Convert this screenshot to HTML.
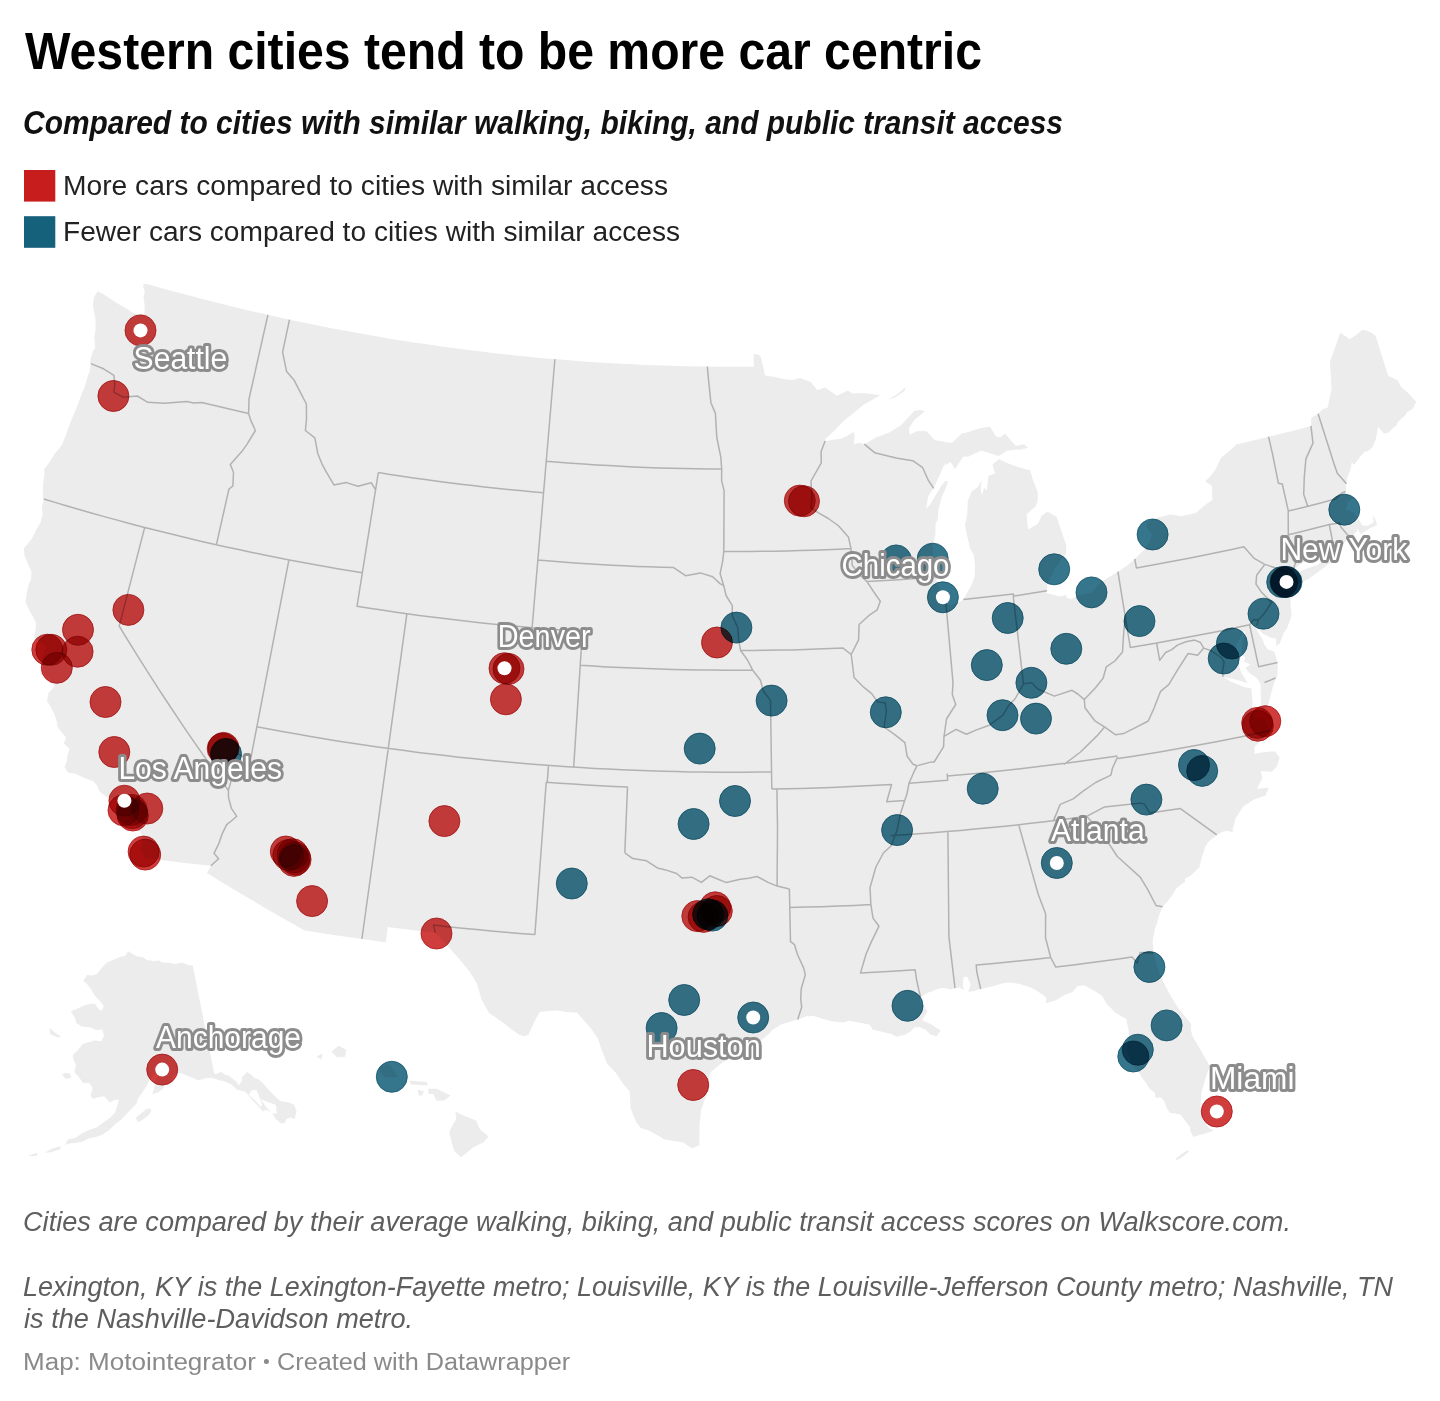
<!DOCTYPE html>
<html><head><meta charset="utf-8"><style>
html,body{margin:0;padding:0;background:#fff}
body{width:1440px;height:1401px;position:relative;overflow:hidden}
</style></head><body>
<svg width="1440" height="1401" viewBox="0 0 1440 1401" style="position:absolute;left:0;top:0">
<g font-family="'Liberation Sans', sans-serif"><text id="title" x="25.00" y="69.1" font-size="51" font-weight="bold" font-style="normal" fill="#000" textLength="957.00" lengthAdjust="spacingAndGlyphs">Western cities tend to be more car centric</text><text id="sub" x="23.00" y="134.4" font-size="33" font-weight="bold" font-style="italic" fill="#111" textLength="1040.01" lengthAdjust="spacingAndGlyphs">Compared to cities with similar walking, biking, and public transit access</text><text id="leg1" x="63.00" y="194.7" font-size="27" font-weight="normal" font-style="normal" fill="#222" textLength="605.02" lengthAdjust="spacingAndGlyphs">More cars compared to cities with similar access</text><text id="leg2" x="63.00" y="240.9" font-size="27" font-weight="normal" font-style="normal" fill="#222" textLength="617.02" lengthAdjust="spacingAndGlyphs">Fewer cars compared to cities with similar access</text><text id="note1" x="23.00" y="1230.8" font-size="27" font-weight="normal" font-style="italic" fill="#5e5e5e" textLength="1268.02" lengthAdjust="spacingAndGlyphs">Cities are compared by their average walking, biking, and public transit access scores on Walkscore.com.</text><text id="note2" x="23.00" y="1295.9" font-size="27" font-weight="normal" font-style="italic" fill="#5e5e5e" textLength="1370.00" lengthAdjust="spacingAndGlyphs">Lexington, KY is the Lexington-Fayette metro; Louisville, KY is the Louisville-Jefferson County metro; Nashville, TN</text><text id="note3" x="24.00" y="1327.9" font-size="27" font-weight="normal" font-style="italic" fill="#5e5e5e" textLength="389.02" lengthAdjust="spacingAndGlyphs">is the Nashville-Davidson metro.</text><text id="byA" x="23.00" y="1370.3" font-size="23.5" font-weight="normal" font-style="normal" fill="#8a8a8a" textLength="232.83" lengthAdjust="spacingAndGlyphs">Map: Motointegrator</text><text id="byB" x="277.00" y="1370.3" font-size="23.5" font-weight="normal" font-style="normal" fill="#8a8a8a" textLength="293.21" lengthAdjust="spacingAndGlyphs">Created with Datawrapper</text></g>
<rect x="24" y="170" width="31.3" height="31.6" fill="#c71e1d"/><rect x="24" y="216.2" width="31.3" height="31.6" fill="#15607a"/><circle cx="266.4" cy="1361.4" r="2.5" fill="#8a8a8a"/>
<g fill="#ececec"><path d="M143.7,283.8L147.4,284.1L158.4,287.2L169.3,290.2L180.3,293.2L191.3,296.1L202.3,299.0L213.3,301.8L224.3,304.6L235.4,307.3L246.4,309.9L257.5,312.5L268.6,315.1L279.7,317.5L290.8,319.9L301.9,322.3L313.1,324.5L324.2,326.8L335.4,328.9L346.6,331.0L357.8,333.1L369.0,335.1L380.2,337.0L391.4,338.9L402.6,340.7L413.9,342.4L425.1,344.1L436.4,345.7L447.6,347.3L458.9,348.8L470.2,350.3L481.5,351.6L492.8,353.0L504.1,354.2L515.4,355.4L526.7,356.6L538.0,357.7L549.3,358.7L560.7,359.6L572.0,360.5L583.3,361.4L594.7,362.2L606.0,362.9L617.4,363.5L628.7,364.1L640.1,364.7L651.5,365.2L662.8,365.6L674.2,365.9L685.6,366.2L696.9,366.4L708.3,366.6L719.7,366.7L731.1,366.8L742.4,366.8L753.8,366.7L753.7,354.1L758.1,354.4L760.8,356.7L763.9,369.9L764.4,373.9L766.2,375.9L773.0,376.4L783.2,378.9L792.2,380.0L800.0,378.1L810.8,382.1L817.4,390.2L825.2,387.5L836.9,395.7L848.0,390.5L852.7,393.6L861.8,393.0L870.9,394.1L880.1,395.2L864.0,404.6L843.4,421.2L834.6,430.6L825.1,439.1L825.6,441.1L841.5,438.4L848.0,435.4L853.6,431.7L854.6,436.7L853.6,444.1L860.0,442.8L864.3,444.2L876.0,437.4L889.3,432.5L900.6,425.6L909.2,416.6L914.4,410.7L920.4,409.9L924.8,411.2L914.1,420.2L909.0,428.3L909.5,434.7L917.3,431.0L926.6,431.2L934.6,440.0L947.4,442.5L952.1,442.7L961.7,433.6L966.7,432.4L979.8,428.3L989.9,426.5L996.0,436.6L1000.0,437.4L1005.0,433.8L1011.8,441.4L1015.9,445.9L1023.9,444.2L1028.0,447.8L1020.0,449.8L1017.5,449.5L1006.9,450.8L998.7,455.9L981.1,450.4L968.8,456.5L963.0,456.8L955.8,468.0L954.7,469.1L950.5,461.8L944.7,465.7L945.3,462.2L939.9,474.6L933.7,488.3L933.3,488.7L930.7,492.3L928.2,496.3L926.2,508.6L929.5,505.3L934.7,497.1L939.9,488.1L945.2,480.9L948.1,480.9L945.5,489.0L941.9,496.4L939.5,505.1L938.3,510.0L937.6,520.5L935.6,522.7L935.4,534.3L932.6,546.8L933.3,558.6L936.7,568.8L936.1,574.0L936.9,577.0L936.8,581.4L941.1,591.6L943.7,598.2L946.1,603.1L950.6,605.4L961.5,601.0L963.3,599.4L970.6,587.1L974.8,576.5L974.9,563.5L973.5,554.1L970.2,548.7L965.9,530.4L965.1,524.4L967.2,514.6L967.8,501.3L971.3,491.8L977.8,487.1L981.6,480.5L980.6,488.5L982.0,495.1L984.1,488.1L986.7,490.1L988.5,475.7L995.5,473.2L994.4,471.3L992.4,464.4L999.1,458.9L1005.7,462.5L1021.9,468.3L1030.2,470.2L1032.6,479.1L1037.7,492.0L1037.8,500.2L1035.7,506.3L1026.6,514.3L1028.0,529.4L1038.0,523.7L1041.4,516.1L1047.4,511.5L1056.7,517.0L1061.3,530.7L1066.4,545.4L1065.9,554.3L1061.4,559.1L1058.4,564.6L1054.1,569.3L1052.2,574.1L1047.3,584.3L1047.0,590.8L1046.0,593.0L1060.6,596.5L1066.2,594.7L1066.6,597.8L1070.8,598.9L1075.4,597.5L1079.6,595.2L1091.4,592.4L1100.4,582.1L1111.7,575.5L1117.9,571.7L1127.8,564.9L1134.8,558.9L1144.0,549.7L1149.6,541.5L1152.0,534.5L1147.2,528.2L1146.2,522.8L1153.6,518.7L1170.7,514.5L1181.0,516.3L1195.7,513.0L1205.7,504.4L1212.4,499.9L1212.0,486.1L1205.3,481.3L1210.4,476.5L1215.7,469.1L1220.9,458.0L1233.0,447.7L1236.4,444.5L1236.4,444.5L1248.9,441.6L1261.4,438.6L1273.8,435.6L1286.2,432.5L1298.6,429.4L1311.0,426.1L1311.3,417.7L1318.1,413.8L1322.9,409.0L1327.5,407.8L1331.6,389.2L1330.0,361.7L1340.2,332.7L1350.0,339.2L1355.9,335.0L1362.9,329.5L1370.7,332.3L1375.5,335.4L1386.9,371.7L1388.5,376.1L1397.6,380.3L1400.8,386.4L1407.6,392.4L1412.9,398.1L1416.1,402.1L1412.8,409.1L1407.4,411.9L1404.9,415.8L1397.9,421.8L1396.5,425.4L1392.4,428.4L1388.6,432.4L1384.0,433.8L1378.1,426.7L1375.7,439.7L1372.7,446.9L1367.7,451.2L1364.6,451.7L1360.4,456.4L1353.9,464.9L1351.8,462.0L1350.6,469.4L1348.8,473.7L1347.3,477.6L1346.5,483.8L1345.4,484.5L1346.3,487.7L1345.5,491.5L1346.0,493.4L1352.6,496.9L1351.5,499.3L1347.2,503.3L1346.9,506.9L1344.6,509.9L1348.7,510.6L1353.8,512.7L1359.0,520.1L1362.5,525.5L1368.2,525.7L1373.7,522.0L1372.9,516.3L1370.1,513.9L1374.7,517.5L1377.1,524.9L1369.5,528.5L1362.1,533.3L1361.1,534.7L1357.4,528.6L1356.8,531.3L1354.1,533.7L1351.4,538.0L1350.4,538.2L1348.8,540.1L1345.8,540.5L1342.9,545.2L1334.1,549.2L1333.0,548.8L1328.3,550.7L1322.0,553.4L1314.5,555.6L1308.7,557.1L1306.1,560.2L1302.7,562.4L1298.0,566.3L1295.5,568.7L1292.8,570.7L1290.8,574.3L1291.1,577.4L1297.5,572.7L1307.5,568.2L1317.6,565.0L1326.0,556.9L1323.8,563.4L1330.9,560.9L1336.2,557.1L1324.7,567.1L1317.0,572.8L1309.3,578.6L1302.3,582.1L1296.3,584.2L1290.9,586.5L1288.3,586.5L1286.5,585.8L1283.4,590.1L1288.7,590.6L1290.4,595.4L1290.5,598.2L1290.6,603.0L1290.9,607.8L1291.6,614.0L1290.3,619.8L1286.7,629.1L1283.6,632.9L1279.8,643.2L1276.3,646.4L1276.2,638.8L1270.6,637.6L1263.1,633.7L1258.1,628.9L1256.9,625.7L1255.7,627.7L1259.2,633.9L1263.5,641.6L1264.2,644.6L1267.9,649.4L1274.0,651.5L1275.1,654.0L1276.9,659.9L1277.6,662.9L1277.7,667.0L1277.6,675.1L1274.0,682.8L1271.0,693.9L1268.0,705.0L1263.6,712.2L1261.3,708.2L1260.7,696.2L1260.7,684.0L1256.7,677.9L1250.6,674.0L1245.3,668.1L1250.4,664.6L1243.9,661.5L1245.3,658.1L1241.4,653.3L1242.0,646.2L1242.2,641.0L1245.5,631.6L1243.0,632.1L1240.3,637.9L1236.3,644.0L1237.4,653.1L1238.3,662.7L1240.6,670.9L1242.7,674.9L1248.0,683.2L1239.9,680.7L1230.1,678.2L1223.1,676.9L1230.7,681.6L1243.9,686.9L1251.5,688.4L1252.1,698.0L1252.7,703.1L1251.5,710.3L1255.8,718.1L1256.2,719.7L1264.1,718.7L1265.5,721.2L1267.6,726.0L1270.2,730.6L1266.0,735.0L1260.0,741.0L1254.5,747.0L1254.5,753.8L1262.0,752.5L1270.0,751.5L1275.0,751.4L1279.7,757.7L1276.5,767.0L1271.8,771.8L1260.8,771.0L1262.4,778.0L1256.9,789.0L1268.7,787.5L1265.5,795.4L1254.5,799.3L1243.5,806.3L1235.7,818.0L1232.6,830.0L1233.0,832.2L1228.5,830.9L1223.0,831.6L1216.8,834.9L1208.2,842.0L1205.0,847.4L1202.1,856.5L1199.2,867.4L1189.9,876.2L1185.1,878.4L1185.1,881.8L1181.2,884.2L1176.2,888.5L1172.9,894.2L1167.0,902.0L1162.6,906.8L1159.0,915.3L1157.3,922.4L1155.2,927.9L1153.1,938.5L1152.5,942.0L1153.5,948.7L1153.3,953.1L1154.4,956.4L1157.3,967.5L1162.6,980.4L1169.3,993.3L1174.2,1001.7L1178.2,1007.9L1191.4,1024.5L1190.7,1029.7L1192.8,1036.8L1197.9,1045.5L1201.1,1050.4L1204.2,1056.4L1209.3,1064.7L1213.8,1071.7L1216.4,1079.8L1217.2,1091.5L1210.5,1064.0L1205.0,1080.0L1201.5,1092.0L1200.5,1106.0L1203.0,1119.0L1208.0,1127.0L1213.5,1131.0L1198.0,1135.6L1193.3,1137.0L1189.9,1129.8L1190.6,1128.0L1180.4,1114.4L1169.6,1112.7L1166.2,1106.8L1163.7,1100.1L1160.2,1097.2L1155.7,1097.9L1155.0,1092.9L1149.4,1088.7L1145.8,1082.4L1142.1,1077.9L1138.0,1070.7L1132.0,1064.8L1130.6,1059.2L1126.7,1050.6L1127.6,1044.4L1128.7,1036.8L1128.8,1031.3L1126.2,1019.1L1115.5,1012.8L1106.2,1003.2L1102.2,995.9L1095.8,991.7L1084.7,985.6L1077.4,985.9L1072.3,992.3L1064.7,994.9L1055.6,1000.4L1045.7,1003.2L1046.6,998.0L1042.6,994.4L1033.8,988.9L1029.2,987.0L1020.1,983.9L1009.8,982.6L1005.4,982.7L999.5,984.3L992.7,986.3L983.3,988.5L980.7,989.1L979.0,989.6L975.6,990.6L968.4,991.9L970.6,984.2L967.1,976.7L963.4,977.0L963.0,986.6L963.8,989.9L959.3,987.5L955.0,988.2L950.7,989.2L943.3,988.1L940.4,988.3L934.8,990.1L930.5,992.1L928.2,992.6L920.7,997.2L919.5,1001.7L924.2,1006.4L927.5,1011.3L922.2,1020.1L931.4,1024.5L936.0,1027.5L940.7,1030.6L936.6,1036.3L930.6,1034.7L925.9,1029.9L919.8,1027.0L913.9,1027.4L911.2,1030.9L905.5,1034.6L896.8,1036.8L890.7,1033.8L872.8,1029.7L869.7,1024.8L856.3,1022.0L848.9,1020.7L843.1,1022.6L831.4,1021.3L813.7,1016.1L806.4,1016.3L797.7,1019.6L781.7,1024.3L771.5,1030.5L770.0,1032.9L761.3,1040.4L754.0,1045.5L743.7,1051.6L734.8,1056.6L722.9,1062.3L711.0,1071.7L709.0,1077.0L709.5,1088.0L705.0,1099.0L701.0,1110.0L699.5,1125.0L699.4,1140.2L699.6,1145.2L691.9,1148.4L682.9,1142.3L673.7,1141.1L664.6,1139.5L655.6,1134.3L649.6,1130.8L640.6,1127.8L636.2,1122.0L630.6,1108.4L629.7,1091.6L622.6,1083.0L615.5,1072.6L607.0,1063.8L601.7,1050.1L597.8,1038.2L590.9,1028.4L577.1,1012.8L566.9,1011.9L556.8,1010.5L547.9,1011.0L539.7,1012.1L533.9,1022.5L528.6,1034.6L524.1,1036.3L519.7,1034.9L511.3,1029.2L505.8,1024.7L494.7,1016.7L489.1,1013.1L481.5,999.6L477.1,984.0L469.6,971.4L459.2,959.1L448.9,947.2L441.2,938.9L436.0,933.6L435.3,932.8L435.3,932.8L419.4,931.0L403.6,929.1L387.7,927.1L385.8,942.2L369.5,940.0L353.3,937.8L337.1,935.4L320.8,933.0L304.7,930.4L304.7,930.4L290.5,922.5L276.3,914.4L262.3,906.3L248.3,898.0L234.4,889.8L220.6,881.4L206.9,873.0L210.9,865.8L210.9,865.8L194.0,864.0L177.1,862.1L160.2,860.1L143.4,858.0L144.2,853.0L141.1,852.7L141.6,846.5L142.5,842.9L141.3,834.3L136.6,826.9L134.5,823.7L132.4,820.4L129.4,817.6L127.9,815.5L123.2,810.9L117.5,809.6L118.6,806.3L117.1,800.7L112.0,798.4L109.0,798.8L101.8,793.5L98.8,790.3L97.8,786.5L93.4,781.2L88.2,779.6L84.3,777.9L75.4,773.8L68.1,772.6L64.4,767.1L66.7,761.7L67.2,756.6L69.5,748.8L67.4,747.1L63.6,743.3L65.5,739.6L65.4,736.8L61.1,731.7L57.4,726.8L57.1,722.9L54.6,714.5L49.1,704.1L47.0,701.7L48.5,693.3L49.3,690.4L49.7,691.9L54.4,686.2L49.7,679.2L45.7,676.7L43.4,672.1L42.9,667.0L42.4,659.1L43.8,654.2L44.9,649.2L46.1,648.1L43.9,644.3L34.2,638.0L35.8,627.8L36.0,622.6L30.2,612.0L25.4,601.7L27.3,589.8L28.5,584.9L31.0,579.2L31.5,571.5L27.9,564.1L24.4,555.2L23.7,548.2L27.9,543.8L32.3,538.1L36.1,530.0L40.4,522.8L42.6,514.6L41.8,507.2L43.8,499.0L42.8,496.9L43.0,484.6L44.5,473.0L44.1,469.3L50.2,461.2L54.8,453.8L62.2,444.4L65.9,434.9L69.4,425.0L73.6,414.7L77.8,404.7L82.2,392.6L84.5,387.7L88.1,375.0L89.7,372.0L90.8,363.6L89.9,361.9L90.8,358.0L93.5,350.0L95.1,348.7L94.8,341.6L94.2,338.0L95.5,329.9L95.6,319.4L92.9,305.7L94.0,297.6L97.5,291.3L104.0,294.5L112.0,300.0L121.0,305.5L128.8,310.0L134.0,313.5L140.0,314.2L144.4,313.6L144.8,306.0L143.5,298.0L144.8,292.0L143.2,287.5L143.7,283.8ZM1175.0,1159.0L1181.0,1154.5L1187.5,1150.0L1189.0,1151.5L1183.0,1156.5L1177.0,1160.0ZM888.4,399.7L896.0,395.1L905.7,387.3L904.8,390.7L895.1,397.5Z" fill-rule="evenodd"/><path d="M128.2,951.2L133.2,954.3L137.1,956.6L143.0,957.2L147.0,960.0L153.1,960.9L159.1,960.5L162.1,962.6L169.5,963.0L175.8,964.0L181.7,962.5L188.4,964.9L192.8,965.8L214.2,1073.8L217.2,1073.8L220.9,1071.8L225.8,1074.9L228.4,1075.5L236.5,1081.5L238.7,1085.2L241.5,1081.4L242.2,1076.9L246.9,1071.9L250.8,1074.5L255.0,1078.2L258.6,1079.6L263.8,1084.1L268.0,1089.0L275.2,1096.5L280.2,1101.1L289.7,1102.7L294.1,1104.8L296.6,1111.5L294.7,1119.1L290.2,1117.6L286.4,1118.9L284.9,1123.1L280.7,1123.3L275.7,1118.8L271.6,1112.6L265.8,1109.5L263.0,1111.6L257.9,1105.7L253.2,1100.9L248.3,1094.9L245.6,1091.9L242.7,1090.9L236.6,1089.4L231.7,1084.5L223.5,1080.9L218.5,1080.1L212.0,1077.8L206.1,1078.3L198.1,1080.2L191.8,1077.5L186.9,1075.8L180.8,1072.9L176.2,1073.4L172.5,1077.3L171.9,1083.3L166.0,1083.7L162.8,1088.7L158.2,1092.5L152.3,1093.9L153.9,1089.1L154.8,1082.0L158.5,1074.7L161.8,1072.2L162.2,1069.8L158.8,1068.8L153.4,1074.9L148.9,1081.0L146.1,1087.0L142.0,1093.0L137.8,1098.9L136.6,1103.6L130.9,1109.4L126.4,1114.1L121.1,1119.8L115.1,1124.2L108.1,1130.9L101.8,1135.1L95.6,1136.9L88.7,1138.6L82.9,1141.4L76.6,1143.0L71.0,1143.3L65.2,1144.8L68.2,1139.3L75.2,1138.0L82.6,1133.1L89.7,1129.8L96.6,1127.5L103.6,1122.2L109.7,1118.0L115.1,1112.4L117.4,1105.4L118.9,1099.6L114.6,1099.9L109.5,1102.5L104.5,1096.2L99.6,1096.9L93.2,1098.7L90.5,1095.9L92.7,1087.9L89.1,1082.7L83.1,1083.0L78.2,1076.3L74.2,1072.1L76.0,1065.2L73.5,1059.9L72.7,1055.0L78.0,1049.9L82.2,1044.6L86.2,1042.8L94.6,1040.4L101.3,1041.2L104.0,1035.6L102.1,1029.5L95.9,1029.9L91.1,1027.5L81.5,1026.5L76.5,1023.2L74.9,1018.1L70.8,1011.2L76.8,1008.9L82.1,1006.3L89.7,1004.0L94.6,1003.6L98.6,1008.9L101.7,1011.0L103.8,1005.9L99.7,1000.7L94.4,995.2L90.8,988.8L86.3,983.2L83.2,980.9L87.0,975.0L92.1,975.4L96.6,974.3L101.8,968.0L106.6,962.8L115.1,959.0L121.3,956.6L125.3,955.7ZM149.6,1108.2L146.5,1108.9L141.6,1113.1L135.9,1117.8L137.8,1122.5L142.3,1120.1L148.5,1115.3L151.6,1110.5ZM69.8,1073.7L65.3,1072.8L62.0,1074.6L65.9,1079.0L71.5,1077.6ZM61.5,1037.0L55.9,1033.2L49.2,1027.8L50.2,1034.2L57.6,1037.3ZM60.1,1146.3L50.3,1149.3L44.6,1153.0L51.9,1152.0L61.0,1148.9ZM37.5,1152.6L27.1,1156.3L36.7,1156.1ZM276.0,1105.0L270.6,1103.0L265.2,1101.0L260.5,1098.7L266.7,1108.0L272.6,1113.5L276.7,1113.4ZM256.6,1090.0L251.5,1090.3L248.9,1094.7L256.0,1101.3L261.1,1107.2L262.2,1104.4Z"/><path d="M455.4,1111.5L456.1,1119.6L452.3,1125.6L449.2,1132.4L454.0,1150.8L461.1,1157.2L473.1,1147.4L483.6,1142.2L488.6,1136.5L480.0,1129.5L476.1,1120.5L463.4,1115.5ZM428.4,1088.8L436.3,1088.8L450.6,1095.5L444.3,1100.5L436.4,1100.5L433.2,1093.8L428.4,1093.8ZM409.5,1080.5L426.8,1082.1L427.8,1085.5L411.0,1084.5ZM417.4,1089.8L423.7,1091.2L422.1,1095.5L418.9,1095.5ZM378.5,1067.7L389.0,1063.7L398.4,1077.1L390.5,1077.7L384.2,1077.0L380.1,1072.0ZM331.4,1051.6L338.7,1045.7L346.5,1050.1L344.9,1056.7L337.0,1057.3ZM316.5,1056.4L322.8,1053.2L321.2,1059.8Z"/></g>
<path d="M90.8,363.6L103.6,368.8L113.9,375.3L114.7,383.6L113.9,392.2L123.5,397.3L137.3,396.0L147.8,402.3L164.6,403.3L186.9,401.5L193.8,402.9L201.6,402.4L201.6,402.4L213.4,405.2L225.1,408.0L236.8,410.8L248.6,413.4M267.9,314.9L249.0,399.0L248.6,413.4M248.6,413.4L251.0,420.9L255.4,430.5L247.1,444.1L241.8,451.6L230.3,464.6L233.5,472.2L232.9,486.0L228.9,489.2L216.4,544.7M43.8,499.0L55.8,502.6L67.9,506.2L80.0,509.7L92.1,513.2L104.2,516.6L116.3,519.9L128.5,523.2L140.7,526.4L152.8,529.5L165.1,532.6L177.3,535.6L189.5,538.5L201.8,541.4L214.0,544.2L226.3,546.9L238.6,549.6L250.9,552.2L263.3,554.8L275.6,557.3L288.0,559.7L300.3,562.0L312.7,564.3L325.1,566.5L337.5,568.7L349.9,570.8L362.3,572.8M289.5,319.6L282.6,352.2L286.6,371.6L294.2,380.3L300.1,391.8L306.4,404.0L306.5,418.7L305.4,430.5L314.8,437.8L317.8,453.5L321.9,463.8L326.4,472.2L333.9,484.9L346.4,482.6L358.0,486.3L371.2,482.7L375.6,489.9M378.3,472.6L357.0,606.3L357.0,606.3L369.4,608.2L381.9,610.1L394.4,612.0L406.9,613.7M378.3,472.6L390.1,474.4L401.9,476.2L413.6,477.9L425.4,479.6L437.2,481.2L449.0,482.7L460.8,484.2L472.6,485.6L484.4,486.9L496.2,488.2L508.0,489.4L519.9,490.6L531.7,491.7L543.6,492.7M554.9,359.2L532.1,627.7M406.9,613.7L419.3,615.4L431.8,617.0L444.4,618.6L456.9,620.1L469.4,621.5L481.9,622.9L494.5,624.2L507.0,625.4L519.6,626.6L532.1,627.7L544.7,628.7L557.2,629.7L569.8,630.6L582.4,631.4M406.9,613.7L361.9,939.0M256.8,726.7L270.2,729.3L283.6,731.7L297.0,734.1L310.5,736.4L323.9,738.7L337.3,740.9L350.8,743.0L364.3,745.0L377.7,746.9L391.2,748.8L404.7,750.6L418.2,752.4L431.8,754.1L445.3,755.6L458.8,757.2L472.4,758.6L485.9,760.0L499.5,761.3L513.0,762.5L526.6,763.7L540.2,764.8L553.8,765.8L567.4,766.7L581.0,767.6L594.6,768.4L608.2,769.1L621.8,769.7L635.4,770.3L649.0,770.8L662.6,771.2L676.2,771.6L689.8,771.9L703.4,772.1L717.1,772.2L730.7,772.2L744.3,772.2L757.9,772.1L771.5,772.0M582.4,631.4L573.7,767.1M580.2,665.3L593.5,666.1L606.7,666.9L620.0,667.5L633.2,668.1L646.5,668.6L659.8,669.1L673.0,669.5L686.3,669.8L699.6,670.0L712.9,670.1L726.1,670.2L739.4,670.2L752.7,670.2M288.9,559.9L251.1,756.8L244.1,757.2L236.6,753.3L231.6,758.1L230.6,770.1L231.2,780.6L228.4,790.4M144.7,527.4L119.2,626.1L119.2,626.1L127.0,638.9L134.9,651.7L142.9,664.4L151.0,677.1L159.2,689.8L167.5,702.5L175.9,715.2L184.4,727.8L193.0,740.4L201.7,752.9L210.5,765.5L219.4,778.0L228.4,790.4M228.4,790.4L228.5,797.4L231.4,808.3L236.8,816.3L231.8,820.5L226.7,824.7L222.0,834.2L218.7,843.9L214.0,853.3L218.6,858.7L210.9,865.8M435.3,932.8L433.6,925.1L433.6,925.1L447.9,926.7L462.3,928.2L476.7,929.6L491.1,930.9L505.5,932.2L519.9,933.4L534.3,934.5L534.9,934.5L546.2,782.3M546.2,782.3L559.7,783.2L573.3,784.1L586.8,785.0L600.4,785.7L614.0,786.4L627.5,787.0L627.5,787.0L624.8,852.9M547.2,782.3L548.5,765.4M624.8,852.9L632.8,858.6L646.5,860.8L657.4,867.9L665.6,869.9L676.6,873.5L682.1,878.1L691.8,877.2L701.4,882.4L709.8,875.8L718.1,879.2L726.4,882.6L740.3,879.3L748.7,878.2L757.0,876.5L768.1,882.4L777.1,886.1L789.4,888.9M789.4,888.9L790.5,941.7L794.5,944.7L797.6,954.8L803.7,968.1L805.3,974.9L801.3,988.5L800.7,998.6L801.7,1007.0L797.7,1019.6M776.9,788.9L777.5,826.3L777.5,826.3L777.4,846.2L777.2,866.1L777.1,886.1M771.8,789.0L770.5,700.6L763.1,690.5L760.5,680.3L752.7,670.2M752.7,670.2L747.5,660.0L740.6,650.5L738.6,639.7L737.8,627.8L732.3,615.9L732.3,605.7L726.1,595.5L723.7,585.7M537.8,560.1L550.2,561.1L562.5,562.0L574.8,562.9L587.1,563.7L599.5,564.5L611.8,565.2L624.2,565.8L636.5,566.4L648.9,566.8L661.2,567.3L673.6,567.6L685.6,575.7L700.4,572.9L712.7,576.8L720.0,583.6L723.7,585.7M723.7,585.7L720.1,573.5L722.6,561.6L723.8,551.5L724.1,490.7L721.6,480.6L721.7,469.1M546.2,461.2L558.7,462.2L571.3,463.2L583.8,464.1L596.3,464.9L608.8,465.6L621.3,466.3L633.9,466.9L646.4,467.4L658.9,467.9L671.5,468.3L684.0,468.6L696.6,468.8L709.1,469.0L721.7,469.1M721.7,469.1L720.8,457.0L716.8,437.5L715.4,413.4L710.9,402.7L708.9,383.3L707.3,366.6M723.8,551.5L736.6,551.5L749.3,551.5L762.0,551.3L774.7,551.2L787.4,550.9L800.1,550.6L812.8,550.2L825.6,549.7L838.3,549.2L851.0,548.6M740.6,650.5L753.4,650.5L766.2,650.3L779.0,650.1L791.8,649.9L804.6,649.5L817.4,649.1L830.2,648.6L843.0,648.1L851.2,654.5M851.0,548.6L848.4,536.9L838.2,525.5L828.3,518.5L818.5,512.8L811.2,508.0L811.9,496.1L811.0,481.0L821.3,462.8L821.1,451.4L825.1,441.1M851.0,548.6L852.3,565.5L860.2,575.2L867.0,581.6L873.5,591.5L880.3,601.2L877.1,609.9L869.8,614.8L859.1,624.5L858.6,639.9L851.2,654.5L854.1,677.5L863.6,687.2L871.7,693.6L877.4,701.8L885.3,703.0L886.3,712.2L884.1,727.0L895.1,734.8L904.9,742.7L907.1,756.2L913.0,764.3L917.1,765.7M917.1,765.7L913.6,772.7L909.0,783.3L907.0,793.7L904.7,800.6L886.7,801.7L891.6,784.4L891.6,784.4L876.6,785.3L861.6,786.1L846.7,786.8L831.7,787.4L816.7,787.9L801.8,788.4L786.8,788.7L771.8,789.0M904.7,800.6L900.2,814.5L897.1,830.0L891.2,845.7L883.4,853.0L875.9,867.0L870.0,887.7L870.9,904.6L873.0,918.1L879.0,926.2L871.3,941.9L866.2,953.7L860.5,972.9L860.5,972.9L878.7,972.0L896.9,971.0L915.1,969.8L916.6,979.9L918.8,989.9L920.7,997.2M789.8,907.5L806.0,907.1L822.2,906.7L838.4,906.1L854.7,905.4L870.9,904.6M947.9,831.5L948.9,936.9L955.0,988.2M890.6,835.6L904.6,834.7L918.7,833.7L932.7,832.7L946.7,831.6L960.8,830.4L974.8,829.1L988.8,827.8L1002.8,826.4L1016.8,824.9L1030.7,823.3L1044.7,821.7L1058.7,820.0L1072.6,818.2L1086.6,816.3M909.0,783.3L947.7,780.3L947.2,774.2L947.4,775.9L961.6,774.7L975.8,773.4L990.0,772.0L1004.2,770.5L1018.4,769.0L1032.6,767.3L1046.8,765.6L1060.9,763.8L1075.1,762.0L1089.2,760.0L1103.4,758.0L1117.5,755.9M1117.6,756.9L1112.5,768.0L1110.9,775.1L1095.6,782.5L1083.1,791.1L1073.2,798.9L1060.2,804.4L1053.5,820.6M1117.9,758.6L1131.8,756.4L1145.7,754.2L1159.6,751.9L1173.5,749.5L1187.4,747.0L1201.2,744.5L1215.0,741.9L1228.9,739.2L1242.7,736.4L1256.5,733.6L1270.2,730.6M1086.6,816.3L1104.6,806.9L1141.2,803.1L1144.7,804.3L1149.8,813.1L1180.4,808.6L1216.8,834.9M1086.6,816.3L1103.0,834.6L1117.3,856.5L1124.8,863.3L1140.2,877.1L1147.8,889.6L1156.0,905.5L1162.6,906.8M1018.7,824.7L1038.2,894.2L1045.6,913.8L1045.5,937.7L1050.7,957.5M980.7,989.1L976.8,971.8L976.2,965.1L976.2,965.1L991.1,963.7L1006.0,962.3L1020.9,960.8L1035.8,959.2L1050.7,957.5L1055.8,967.1L1055.8,967.1L1071.1,965.2L1086.3,963.3L1101.6,961.3L1116.8,959.2L1132.0,957.0L1137.3,963.1L1140.1,952.4L1153.3,953.1M1063.8,764.5L1080.5,752.0L1097.0,735.9L1104.5,726.9L1094.8,720.8L1085.0,707.7L1084.3,699.6M1125.3,616.6L1123.4,636.9L1122.5,651.9L1114.8,661.0L1106.3,666.8L1103.1,678.3L1095.3,688.0L1084.3,699.6L1077.8,694.0L1072.0,690.3L1054.4,696.1L1037.7,689.0L1031.8,682.8L1023.5,683.8L1015.3,698.5L1008.3,706.1L1002.7,715.3L989.3,725.2L976.5,729.9L966.4,734.3L956.1,729.4L944.0,736.3L943.6,746.6L934.2,762.0L931.5,761.9L917.6,765.6M1117.9,571.7L1130.3,647.5L1130.3,647.5L1143.6,645.2L1156.9,643.0L1170.2,640.6L1183.5,638.1L1196.7,635.6L1210.0,633.0L1223.2,630.4L1236.4,627.6L1249.6,624.8M1156.6,643.0L1159.7,660.4L1165.6,652.5L1171.7,649.6L1177.4,645.1L1185.9,641.8L1194.8,640.1L1200.5,642.5L1203.7,648.1M1104.5,726.9L1115.6,734.8L1123.5,733.6L1133.5,728.6L1148.3,721.0L1154.1,708.0L1160.6,691.3L1168.7,684.7L1177.9,669.3L1188.1,653.5L1197.7,655.2L1203.7,648.1M1203.7,648.1L1211.3,650.8L1221.3,657.5L1224.1,662.1L1222.3,672.9L1223.1,676.9M1264.5,682.5L1275.6,678.0M1249.6,624.8L1258.6,666.7L1258.6,666.7L1277.5,662.5M1249.6,624.8L1253.5,619.8L1258.3,620.1M1256.9,625.7L1258.3,620.1L1264.2,613.6L1271.4,602.6L1261.1,591.7L1256.0,584.1L1256.6,575.3L1264.8,564.4M1264.8,564.4L1286.9,571.8L1287.2,578.7L1286.5,585.8M1264.8,564.4L1254.2,558.4L1243.9,546.8L1243.9,546.8L1230.5,549.7L1217.1,552.5L1203.7,555.3L1190.3,558.0L1176.8,560.6L1163.4,563.1L1149.9,565.6L1136.4,567.9L1134.8,558.9M1268.5,436.6L1272.4,453.3L1278.4,483.2L1282.3,484.0L1288.2,510.4L1288.3,534.8L1293.1,559.8L1295.6,562.7L1292.8,570.7M1307.7,506.3L1303.7,494.3L1304.3,476.7L1305.9,458.9L1313.0,443.1L1310.9,425.8M1288.4,511.1L1304.1,507.2L1319.7,503.2L1335.4,499.1L1341.4,493.3L1345.5,491.5M1318.1,413.8L1334.0,463.7L1337.3,473.3L1346.5,483.8M1288.3,534.8L1302.0,531.5L1315.6,528.0L1329.3,524.5L1339.6,522.9L1340.7,526.8L1350.4,538.2M1329.4,525.2L1334.1,549.2M864.3,444.2L874.6,452.7L896.1,457.9L912.7,460.7L922.7,467.7L928.5,480.7L933.7,488.3M963.3,599.4L1013.4,594.0L1013.7,596.1L1047.0,590.8M1013.2,596.1L1023.5,683.8M945.9,603.1L953.0,682.6L952.3,694.6L955.7,704.5L946.5,719.0L944.0,736.3M867.0,581.6L880.9,580.8L894.9,579.9L908.9,578.9L922.9,577.8L936.8,576.7" fill="none" stroke="#b2b2b2" stroke-width="1.5" stroke-linejoin="round"/>
<g><circle cx="140.5" cy="330.4" r="15.5" fill="#c71e1d" fill-opacity="0.86" stroke="#b01a1a" stroke-opacity="0.85" stroke-width="1" style="mix-blend-mode:multiply"/><circle cx="113.4" cy="396.0" r="15.5" fill="#c71e1d" fill-opacity="0.86" stroke="#b01a1a" stroke-opacity="0.85" stroke-width="1" style="mix-blend-mode:multiply"/><circle cx="78.0" cy="629.8" r="15.5" fill="#c71e1d" fill-opacity="0.86" stroke="#b01a1a" stroke-opacity="0.85" stroke-width="1" style="mix-blend-mode:multiply"/><circle cx="47.3" cy="649.7" r="15.5" fill="#c71e1d" fill-opacity="0.86" stroke="#b01a1a" stroke-opacity="0.85" stroke-width="1" style="mix-blend-mode:multiply"/><circle cx="51.3" cy="649.8" r="15.5" fill="#c71e1d" fill-opacity="0.86" stroke="#b01a1a" stroke-opacity="0.85" stroke-width="1" style="mix-blend-mode:multiply"/><circle cx="77.6" cy="651.7" r="15.5" fill="#c71e1d" fill-opacity="0.86" stroke="#b01a1a" stroke-opacity="0.85" stroke-width="1" style="mix-blend-mode:multiply"/><circle cx="56.8" cy="667.8" r="15.5" fill="#c71e1d" fill-opacity="0.86" stroke="#b01a1a" stroke-opacity="0.85" stroke-width="1" style="mix-blend-mode:multiply"/><circle cx="128.4" cy="609.9" r="15.5" fill="#c71e1d" fill-opacity="0.86" stroke="#b01a1a" stroke-opacity="0.85" stroke-width="1" style="mix-blend-mode:multiply"/><circle cx="105.5" cy="702.0" r="15.5" fill="#c71e1d" fill-opacity="0.86" stroke="#b01a1a" stroke-opacity="0.85" stroke-width="1" style="mix-blend-mode:multiply"/><circle cx="114.3" cy="752.0" r="15.5" fill="#c71e1d" fill-opacity="0.86" stroke="#b01a1a" stroke-opacity="0.85" stroke-width="1" style="mix-blend-mode:multiply"/><circle cx="222.7" cy="748.7" r="15.5" fill="#c71e1d" fill-opacity="0.86" stroke="#b01a1a" stroke-opacity="0.85" stroke-width="1" style="mix-blend-mode:multiply"/><circle cx="223.5" cy="747.9" r="15.5" fill="#c71e1d" fill-opacity="0.86" stroke="#b01a1a" stroke-opacity="0.85" stroke-width="1" style="mix-blend-mode:multiply"/><circle cx="226.0" cy="753.9" r="15.5" fill="#15607a" fill-opacity="0.86" stroke="#14566c" stroke-opacity="0.85" stroke-width="1" style="mix-blend-mode:multiply"/><circle cx="123.5" cy="810.3" r="15.5" fill="#c71e1d" fill-opacity="0.86" stroke="#b01a1a" stroke-opacity="0.85" stroke-width="1" style="mix-blend-mode:multiply"/><circle cx="131.6" cy="809.9" r="15.5" fill="#c71e1d" fill-opacity="0.86" stroke="#b01a1a" stroke-opacity="0.85" stroke-width="1" style="mix-blend-mode:multiply"/><circle cx="132.2" cy="813.2" r="15.5" fill="#c71e1d" fill-opacity="0.86" stroke="#b01a1a" stroke-opacity="0.85" stroke-width="1" style="mix-blend-mode:multiply"/><circle cx="132.8" cy="815.5" r="15.5" fill="#c71e1d" fill-opacity="0.86" stroke="#b01a1a" stroke-opacity="0.85" stroke-width="1" style="mix-blend-mode:multiply"/><circle cx="147.3" cy="808.5" r="15.5" fill="#c71e1d" fill-opacity="0.86" stroke="#b01a1a" stroke-opacity="0.85" stroke-width="1" style="mix-blend-mode:multiply"/><circle cx="124.4" cy="800.7" r="15.5" fill="#c71e1d" fill-opacity="0.86" stroke="#b01a1a" stroke-opacity="0.85" stroke-width="1" style="mix-blend-mode:multiply"/><circle cx="143.6" cy="851.6" r="15.5" fill="#c71e1d" fill-opacity="0.86" stroke="#b01a1a" stroke-opacity="0.85" stroke-width="1" style="mix-blend-mode:multiply"/><circle cx="145.2" cy="854.6" r="15.5" fill="#c71e1d" fill-opacity="0.86" stroke="#b01a1a" stroke-opacity="0.85" stroke-width="1" style="mix-blend-mode:multiply"/><circle cx="288.3" cy="855.0" r="15.5" fill="#c71e1d" fill-opacity="0.86" stroke="#b01a1a" stroke-opacity="0.85" stroke-width="1" style="mix-blend-mode:multiply"/><circle cx="294.8" cy="857.3" r="15.5" fill="#c71e1d" fill-opacity="0.86" stroke="#b01a1a" stroke-opacity="0.85" stroke-width="1" style="mix-blend-mode:multiply"/><circle cx="293.9" cy="860.9" r="15.5" fill="#c71e1d" fill-opacity="0.86" stroke="#b01a1a" stroke-opacity="0.85" stroke-width="1" style="mix-blend-mode:multiply"/><circle cx="292.7" cy="854.2" r="15.5" fill="#c71e1d" fill-opacity="0.86" stroke="#b01a1a" stroke-opacity="0.85" stroke-width="1" style="mix-blend-mode:multiply"/><circle cx="295.6" cy="859.6" r="15.5" fill="#c71e1d" fill-opacity="0.86" stroke="#b01a1a" stroke-opacity="0.85" stroke-width="1" style="mix-blend-mode:multiply"/><circle cx="285.8" cy="851.5" r="15.5" fill="#c71e1d" fill-opacity="0.86" stroke="#b01a1a" stroke-opacity="0.85" stroke-width="1" style="mix-blend-mode:multiply"/><circle cx="312.1" cy="901.1" r="15.5" fill="#c71e1d" fill-opacity="0.86" stroke="#b01a1a" stroke-opacity="0.85" stroke-width="1" style="mix-blend-mode:multiply"/><circle cx="444.4" cy="821.1" r="15.5" fill="#c71e1d" fill-opacity="0.86" stroke="#b01a1a" stroke-opacity="0.85" stroke-width="1" style="mix-blend-mode:multiply"/><circle cx="436.5" cy="933.5" r="15.5" fill="#c71e1d" fill-opacity="0.86" stroke="#b01a1a" stroke-opacity="0.85" stroke-width="1" style="mix-blend-mode:multiply"/><circle cx="508.5" cy="668.9" r="15.5" fill="#c71e1d" fill-opacity="0.86" stroke="#b01a1a" stroke-opacity="0.85" stroke-width="1" style="mix-blend-mode:multiply"/><circle cx="504.5" cy="668.2" r="15.5" fill="#c71e1d" fill-opacity="0.86" stroke="#b01a1a" stroke-opacity="0.85" stroke-width="1" style="mix-blend-mode:multiply"/><circle cx="505.9" cy="699.3" r="15.5" fill="#c71e1d" fill-opacity="0.86" stroke="#b01a1a" stroke-opacity="0.85" stroke-width="1" style="mix-blend-mode:multiply"/><circle cx="717.0" cy="642.5" r="15.5" fill="#c71e1d" fill-opacity="0.86" stroke="#b01a1a" stroke-opacity="0.85" stroke-width="1" style="mix-blend-mode:multiply"/><circle cx="736.4" cy="627.6" r="15.5" fill="#15607a" fill-opacity="0.86" stroke="#14566c" stroke-opacity="0.85" stroke-width="1" style="mix-blend-mode:multiply"/><circle cx="799.8" cy="500.6" r="15.5" fill="#c71e1d" fill-opacity="0.86" stroke="#b01a1a" stroke-opacity="0.85" stroke-width="1" style="mix-blend-mode:multiply"/><circle cx="804.0" cy="501.3" r="15.5" fill="#c71e1d" fill-opacity="0.86" stroke="#b01a1a" stroke-opacity="0.85" stroke-width="1" style="mix-blend-mode:multiply"/><circle cx="771.6" cy="700.6" r="15.5" fill="#15607a" fill-opacity="0.86" stroke="#14566c" stroke-opacity="0.85" stroke-width="1" style="mix-blend-mode:multiply"/><circle cx="699.7" cy="748.6" r="15.5" fill="#15607a" fill-opacity="0.86" stroke="#14566c" stroke-opacity="0.85" stroke-width="1" style="mix-blend-mode:multiply"/><circle cx="735.0" cy="801.0" r="15.5" fill="#15607a" fill-opacity="0.86" stroke="#14566c" stroke-opacity="0.85" stroke-width="1" style="mix-blend-mode:multiply"/><circle cx="693.6" cy="824.0" r="15.5" fill="#15607a" fill-opacity="0.86" stroke="#14566c" stroke-opacity="0.85" stroke-width="1" style="mix-blend-mode:multiply"/><circle cx="571.8" cy="883.5" r="15.5" fill="#15607a" fill-opacity="0.86" stroke="#14566c" stroke-opacity="0.85" stroke-width="1" style="mix-blend-mode:multiply"/><circle cx="697.3" cy="916.1" r="15.5" fill="#c71e1d" fill-opacity="0.86" stroke="#b01a1a" stroke-opacity="0.85" stroke-width="1" style="mix-blend-mode:multiply"/><circle cx="703.6" cy="916.9" r="15.5" fill="#c71e1d" fill-opacity="0.86" stroke="#b01a1a" stroke-opacity="0.85" stroke-width="1" style="mix-blend-mode:multiply"/><circle cx="708.1" cy="914.3" r="15.5" fill="#15607a" fill-opacity="0.86" stroke="#14566c" stroke-opacity="0.85" stroke-width="1" style="mix-blend-mode:multiply"/><circle cx="712.4" cy="915.6" r="15.5" fill="#15607a" fill-opacity="0.86" stroke="#14566c" stroke-opacity="0.85" stroke-width="1" style="mix-blend-mode:multiply"/><circle cx="716.8" cy="911.0" r="15.5" fill="#c71e1d" fill-opacity="0.86" stroke="#b01a1a" stroke-opacity="0.85" stroke-width="1" style="mix-blend-mode:multiply"/><circle cx="715.2" cy="907.3" r="15.5" fill="#c71e1d" fill-opacity="0.86" stroke="#b01a1a" stroke-opacity="0.85" stroke-width="1" style="mix-blend-mode:multiply"/><circle cx="684.2" cy="1000.0" r="15.5" fill="#15607a" fill-opacity="0.86" stroke="#14566c" stroke-opacity="0.85" stroke-width="1" style="mix-blend-mode:multiply"/><circle cx="661.6" cy="1028.0" r="15.5" fill="#15607a" fill-opacity="0.86" stroke="#14566c" stroke-opacity="0.85" stroke-width="1" style="mix-blend-mode:multiply"/><circle cx="693.2" cy="1085.0" r="15.5" fill="#c71e1d" fill-opacity="0.86" stroke="#b01a1a" stroke-opacity="0.85" stroke-width="1" style="mix-blend-mode:multiply"/><circle cx="753.2" cy="1017.5" r="15.5" fill="#15607a" fill-opacity="0.86" stroke="#14566c" stroke-opacity="0.85" stroke-width="1" style="mix-blend-mode:multiply"/><circle cx="907.5" cy="1005.8" r="15.5" fill="#15607a" fill-opacity="0.86" stroke="#14566c" stroke-opacity="0.85" stroke-width="1" style="mix-blend-mode:multiply"/><circle cx="896.1" cy="560.4" r="15.5" fill="#15607a" fill-opacity="0.86" stroke="#14566c" stroke-opacity="0.85" stroke-width="1" style="mix-blend-mode:multiply"/><circle cx="932.7" cy="558.7" r="15.5" fill="#15607a" fill-opacity="0.86" stroke="#14566c" stroke-opacity="0.85" stroke-width="1" style="mix-blend-mode:multiply"/><circle cx="942.9" cy="597.3" r="15.5" fill="#15607a" fill-opacity="0.86" stroke="#14566c" stroke-opacity="0.85" stroke-width="1" style="mix-blend-mode:multiply"/><circle cx="1054.2" cy="569.3" r="15.5" fill="#15607a" fill-opacity="0.86" stroke="#14566c" stroke-opacity="0.85" stroke-width="1" style="mix-blend-mode:multiply"/><circle cx="1091.5" cy="592.4" r="15.5" fill="#15607a" fill-opacity="0.86" stroke="#14566c" stroke-opacity="0.85" stroke-width="1" style="mix-blend-mode:multiply"/><circle cx="1007.7" cy="618.0" r="15.5" fill="#15607a" fill-opacity="0.86" stroke="#14566c" stroke-opacity="0.85" stroke-width="1" style="mix-blend-mode:multiply"/><circle cx="986.8" cy="665.1" r="15.5" fill="#15607a" fill-opacity="0.86" stroke="#14566c" stroke-opacity="0.85" stroke-width="1" style="mix-blend-mode:multiply"/><circle cx="1066.3" cy="648.8" r="15.5" fill="#15607a" fill-opacity="0.86" stroke="#14566c" stroke-opacity="0.85" stroke-width="1" style="mix-blend-mode:multiply"/><circle cx="1031.4" cy="682.8" r="15.5" fill="#15607a" fill-opacity="0.86" stroke="#14566c" stroke-opacity="0.85" stroke-width="1" style="mix-blend-mode:multiply"/><circle cx="1002.5" cy="715.2" r="15.5" fill="#15607a" fill-opacity="0.86" stroke="#14566c" stroke-opacity="0.85" stroke-width="1" style="mix-blend-mode:multiply"/><circle cx="1036.0" cy="718.6" r="15.5" fill="#15607a" fill-opacity="0.86" stroke="#14566c" stroke-opacity="0.85" stroke-width="1" style="mix-blend-mode:multiply"/><circle cx="885.8" cy="712.3" r="15.5" fill="#15607a" fill-opacity="0.86" stroke="#14566c" stroke-opacity="0.85" stroke-width="1" style="mix-blend-mode:multiply"/><circle cx="897.1" cy="830.1" r="15.5" fill="#15607a" fill-opacity="0.86" stroke="#14566c" stroke-opacity="0.85" stroke-width="1" style="mix-blend-mode:multiply"/><circle cx="982.7" cy="788.7" r="15.5" fill="#15607a" fill-opacity="0.86" stroke="#14566c" stroke-opacity="0.85" stroke-width="1" style="mix-blend-mode:multiply"/><circle cx="1146.4" cy="799.6" r="15.5" fill="#15607a" fill-opacity="0.86" stroke="#14566c" stroke-opacity="0.85" stroke-width="1" style="mix-blend-mode:multiply"/><circle cx="1202.2" cy="770.9" r="15.5" fill="#15607a" fill-opacity="0.86" stroke="#14566c" stroke-opacity="0.85" stroke-width="1" style="mix-blend-mode:multiply"/><circle cx="1194.0" cy="765.0" r="15.5" fill="#15607a" fill-opacity="0.86" stroke="#14566c" stroke-opacity="0.85" stroke-width="1" style="mix-blend-mode:multiply"/><circle cx="1149.4" cy="967.0" r="15.5" fill="#15607a" fill-opacity="0.86" stroke="#14566c" stroke-opacity="0.85" stroke-width="1" style="mix-blend-mode:multiply"/><circle cx="1166.6" cy="1025.4" r="15.5" fill="#15607a" fill-opacity="0.86" stroke="#14566c" stroke-opacity="0.85" stroke-width="1" style="mix-blend-mode:multiply"/><circle cx="1137.8" cy="1049.7" r="15.5" fill="#15607a" fill-opacity="0.86" stroke="#14566c" stroke-opacity="0.85" stroke-width="1" style="mix-blend-mode:multiply"/><circle cx="1133.3" cy="1056.5" r="15.5" fill="#15607a" fill-opacity="0.86" stroke="#14566c" stroke-opacity="0.85" stroke-width="1" style="mix-blend-mode:multiply"/><circle cx="1152.6" cy="534.5" r="15.5" fill="#15607a" fill-opacity="0.86" stroke="#14566c" stroke-opacity="0.85" stroke-width="1" style="mix-blend-mode:multiply"/><circle cx="1139.5" cy="621.1" r="15.5" fill="#15607a" fill-opacity="0.86" stroke="#14566c" stroke-opacity="0.85" stroke-width="1" style="mix-blend-mode:multiply"/><circle cx="1263.5" cy="613.7" r="15.5" fill="#15607a" fill-opacity="0.86" stroke="#14566c" stroke-opacity="0.85" stroke-width="1" style="mix-blend-mode:multiply"/><circle cx="1231.9" cy="643.5" r="15.5" fill="#15607a" fill-opacity="0.86" stroke="#14566c" stroke-opacity="0.85" stroke-width="1" style="mix-blend-mode:multiply"/><circle cx="1223.7" cy="658.5" r="15.5" fill="#15607a" fill-opacity="0.86" stroke="#14566c" stroke-opacity="0.85" stroke-width="1" style="mix-blend-mode:multiply"/><circle cx="1344.3" cy="509.7" r="15.5" fill="#15607a" fill-opacity="0.86" stroke="#14566c" stroke-opacity="0.85" stroke-width="1" style="mix-blend-mode:multiply"/><circle cx="1282.2" cy="582.1" r="15.5" fill="#15607a" fill-opacity="0.86" stroke="#14566c" stroke-opacity="0.85" stroke-width="1" style="mix-blend-mode:multiply"/><circle cx="1285.6" cy="581.9" r="15.5" fill="#15607a" fill-opacity="0.86" stroke="#14566c" stroke-opacity="0.85" stroke-width="1" style="mix-blend-mode:multiply"/><circle cx="1286.5" cy="581.9" r="15.5" fill="#15607a" fill-opacity="0.86" stroke="#14566c" stroke-opacity="0.85" stroke-width="1" style="mix-blend-mode:multiply"/><circle cx="1265.3" cy="721.2" r="15.5" fill="#c71e1d" fill-opacity="0.86" stroke="#b01a1a" stroke-opacity="0.85" stroke-width="1" style="mix-blend-mode:multiply"/><circle cx="1257.2" cy="722.9" r="15.5" fill="#c71e1d" fill-opacity="0.86" stroke="#b01a1a" stroke-opacity="0.85" stroke-width="1" style="mix-blend-mode:multiply"/><circle cx="1257.8" cy="725.7" r="15.5" fill="#c71e1d" fill-opacity="0.86" stroke="#b01a1a" stroke-opacity="0.85" stroke-width="1" style="mix-blend-mode:multiply"/><circle cx="1056.8" cy="863.0" r="15.5" fill="#15607a" fill-opacity="0.86" stroke="#14566c" stroke-opacity="0.85" stroke-width="1" style="mix-blend-mode:multiply"/><circle cx="1216.8" cy="1111.5" r="15.5" fill="#c71e1d" fill-opacity="0.86" stroke="#b01a1a" stroke-opacity="0.85" stroke-width="1" style="mix-blend-mode:multiply"/><circle cx="162.2" cy="1069.6" r="15.5" fill="#c71e1d" fill-opacity="0.86" stroke="#b01a1a" stroke-opacity="0.85" stroke-width="1" style="mix-blend-mode:multiply"/><circle cx="391.8" cy="1076.8" r="15.5" fill="#15607a" fill-opacity="0.86" stroke="#14566c" stroke-opacity="0.85" stroke-width="1" style="mix-blend-mode:multiply"/></g>
<g><circle cx="140.5" cy="330.4" r="7" fill="#fff"/><circle cx="124.4" cy="800.7" r="7" fill="#fff"/><circle cx="504.5" cy="668.2" r="7" fill="#fff"/><circle cx="753.2" cy="1017.5" r="7" fill="#fff"/><circle cx="942.9" cy="597.3" r="7" fill="#fff"/><circle cx="1286.5" cy="581.9" r="7" fill="#fff"/><circle cx="1056.8" cy="863.0" r="7" fill="#fff"/><circle cx="1216.8" cy="1111.5" r="7" fill="#fff"/><circle cx="162.2" cy="1069.6" r="7" fill="#fff"/></g>
<g font-family="'Liberation Sans', sans-serif" font-size="31" fill="#fff" stroke="#8c8c8c" stroke-width="5.8" stroke-linejoin="round" paint-order="stroke"><text x="133.60" y="368.5" textLength="93.66" lengthAdjust="spacingAndGlyphs">Seattle</text><text x="118.40" y="779.1" textLength="163.65" lengthAdjust="spacingAndGlyphs">Los Angeles</text><text x="497.80" y="646.7" textLength="92.87" lengthAdjust="spacingAndGlyphs">Denver</text><text x="841.60" y="575.6" textLength="107.84" lengthAdjust="spacingAndGlyphs">Chicago</text><text x="1280.40" y="559.8" textLength="126.83" lengthAdjust="spacingAndGlyphs">New York</text><text x="1051.00" y="840.9" textLength="93.60" lengthAdjust="spacingAndGlyphs">Atlanta</text><text x="1210.00" y="1089.4" textLength="84.43" lengthAdjust="spacingAndGlyphs">Miami</text><text x="646.40" y="1057.1" textLength="114.36" lengthAdjust="spacingAndGlyphs">Houston</text><text x="156.00" y="1047.8" textLength="145.01" lengthAdjust="spacingAndGlyphs">Anchorage</text></g>
</svg>
</body></html>
